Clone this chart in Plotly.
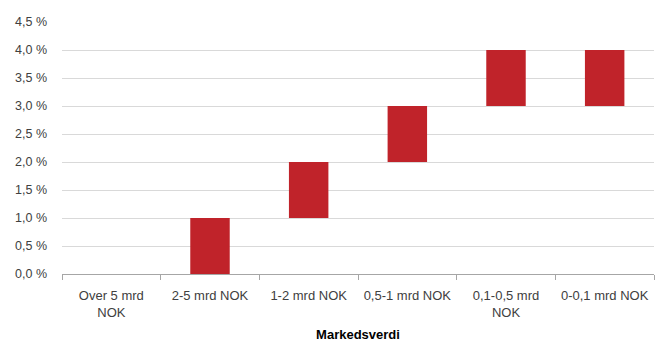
import plotly.graph_objects as go

categories = ["Over 5 mrd<br>NOK", "2-5 mrd NOK", "1-2 mrd NOK", "0,5-1 mrd NOK", "0,1-0,5 mrd<br>NOK", "0-0,1 mrd NOK"]
low_values = [0, 0, 1, 2, 3, 3]
high_values = [0, 1, 2, 3, 4, 4]
x_title = "Markedsverdi"

heights = [h - l for h, l in zip(high_values, low_values)]

fig = go.Figure()
fig.add_trace(go.Bar(
    x=categories, y=heights, base=low_values,
    marker=dict(color="#C0232A", line=dict(width=0)),
    width=0.4,
))

font_color = "#404040"
fig.update_layout(
    width=655, height=345,
    margin=dict(l=62, r=1, t=22, b=71),
    paper_bgcolor="white", plot_bgcolor="white",
    font=dict(family="Liberation Sans, Arial, sans-serif", size=12, color=font_color),
    separators=",.",
    showlegend=False,
    xaxis=dict(
        type="category", automargin=False,
        showline=True, linecolor="#A6A6A6", linewidth=1,
        ticks="outside", tickson="boundaries", ticklen=5, tickcolor="#A6A6A6",
        showgrid=False, ticklabelstandoff=9, tickangle=0,
        title=dict(text="<b>" + x_title + "</b>", font=dict(size=13, color="#000000"), standoff=11),
        tickfont=dict(size=13, color=font_color),
    ),
    yaxis=dict(
        range=[0, 4.5], dtick=0.5, tickformat=".1f", ticksuffix=" %",
        showgrid=True, gridcolor="#D9D9D9", gridwidth=1,
        zeroline=False, showline=False, automargin=False,
        ticks="", ticklabelstandoff=14,
        tickfont=dict(size=12.5, color=font_color),
    ),
)

fig.write_html("out.html")
